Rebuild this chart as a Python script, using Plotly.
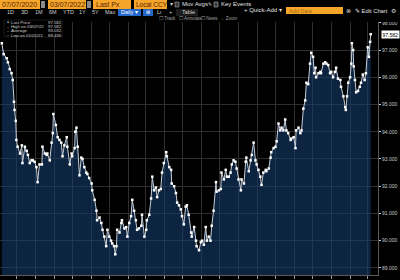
import datetime as dt
import plotly.graph_objects as go

# ---------------- data ----------------
start_date = "2020-07-07"
days_since_start = [
    0, 3, 8, 10, 13, 16, 18, 20, 21, 23, 24, 26, 30, 33, 34, 38, 41, 43, 46, 49,
    51, 54, 57, 59, 62, 66, 67, 71, 74, 75, 79, 82, 84, 85, 89, 92, 95, 98, 100, 103,
    107, 108, 112, 115, 116, 120, 121, 123, 125, 128, 131, 133, 136, 139, 141, 144, 148, 149, 153, 156,
    157, 161, 164, 166, 169, 172, 174, 177, 180, 182, 185, 187, 189, 190, 194, 197, 198, 202, 205, 207,
    210, 213, 215, 218, 221, 223, 226, 230, 231, 235, 238, 239, 243, 246, 248, 251, 254, 256, 259, 262,
    264, 267, 271, 272, 276, 279, 280, 284, 287, 289, 292, 295, 297, 300, 303, 305, 308, 312, 313, 317,
    320, 321, 325, 328, 330, 333, 336, 338, 341, 344, 346, 349, 353, 354, 358, 361, 362, 366, 369, 371,
    374, 377, 379, 382, 385, 387, 390, 394, 395, 399, 402, 403, 407, 410, 412, 415, 418, 420, 423, 426,
    428, 431, 435, 436, 440, 443, 444, 448, 451, 453, 456, 459, 461, 464, 467, 469, 472, 476, 477, 481,
    484, 485, 489, 492, 494, 497, 500, 502, 505, 508, 510, 513, 515, 517, 518, 522, 525, 526, 530, 533,
    535, 538, 541, 543, 546, 549, 551, 554, 558, 559, 563, 566, 567, 569, 571, 574, 576, 577, 579, 580,
    582, 584, 587, 590, 592, 595, 598, 600, 603, 605, 607, 608,
]
last_px = [
    97.25, 96.85, 96.70, 96.55, 96.30, 96.15, 95.90, 95.10, 94.80, 94.40, 93.70, 93.45, 93.20, 93.50, 92.85, 93.45, 93.30, 93.15, 92.85, 92.95,
    92.95, 92.90, 92.70, 92.15, 92.80, 92.80, 93.45, 93.20, 93.15, 93.20, 92.95, 93.60, 93.95, 94.65, 94.25, 93.80, 93.70, 93.60, 93.10, 93.50,
    93.80, 93.45, 92.80, 93.20, 93.10, 93.40, 94.00, 94.15, 93.45, 92.40, 93.05, 93.00, 92.70, 92.50, 92.45, 92.30, 92.10, 91.85, 91.50, 91.10,
    90.75, 90.85, 90.65, 90.40, 90.15, 89.80, 90.40, 90.15, 90.00, 89.90, 89.80, 89.50, 89.80, 90.40, 90.30, 90.65, 90.75, 90.45, 90.50, 90.15,
    90.65, 90.90, 91.50, 91.10, 90.75, 90.40, 90.45, 90.55, 90.95, 90.15, 90.40, 90.75, 90.95, 91.55, 92.35, 91.85, 91.95, 91.60, 91.85, 91.90,
    92.50, 92.85, 93.25, 93.10, 92.70, 92.60, 92.10, 92.00, 91.75, 91.40, 91.30, 91.15, 90.90, 90.60, 91.25, 91.30, 90.95, 90.30, 90.15, 90.50,
    90.00, 89.80, 89.65, 89.95, 90.00, 89.85, 90.50, 90.00, 90.15, 90.00, 90.55, 91.10, 92.15, 91.80, 91.85, 91.90, 92.50, 92.25, 92.60, 92.35,
    92.35, 92.50, 92.80, 92.95, 92.90, 92.65, 92.25, 91.85, 92.25, 92.10, 92.90, 93.05, 92.55, 92.95, 93.15, 93.60, 92.95, 92.80, 92.60, 92.35,
    92.05, 92.50, 92.60, 92.55, 92.65, 93.05, 93.25, 93.40, 93.45, 93.65, 94.30, 94.05, 94.15, 94.05, 94.45, 94.05, 93.95, 93.70, 93.75, 93.80,
    93.40, 94.05, 94.15, 93.95, 94.05, 94.85, 95.15, 95.80, 95.75, 96.50, 96.90, 96.75, 96.15, 96.35, 96.00, 96.15, 96.20, 96.15, 96.50, 96.55,
    96.50, 96.45, 96.15, 96.20, 96.00, 96.20, 96.35, 95.95, 95.90, 95.65, 95.30, 94.90, 94.80, 95.30, 95.80, 96.00, 96.50, 97.25, 97.00, 96.40,
    95.90, 95.45, 95.50, 95.65, 95.80, 96.10, 95.90, 96.15, 97.10, 96.75, 97.30, 97.582,
]
y_ticks = [89, 90, 91, 92, 93, 94, 95, 96, 97, 98]
legend_labels = ["Last Price", "High on 03/07/22", "Average", "Low on 01/05/21"]
legend_values = ["97.582", "97.582", "93.032", "89.436"]
period_buttons = ["1D", "3D", "1M", "6M", "YTD", "1Y", "5Y", "Max"]

t0 = dt.date.fromisoformat(start_date)
dates = [t0 + dt.timedelta(days=d) for d in days_since_start]

# ---------------- figure ----------------
W, H = 400, 280
ML, MR, MT, MB = 0, 22, 22, 5
PW, PH = W - ML - MR, H - MT - MB


def px(x):
    return (x - ML) / PW


def py(y):
    return 1 - (y - MT) / PH


fig = go.Figure()
fig.add_trace(go.Scatter(
    x=dates, y=last_px, mode="lines+markers",
    line=dict(color="#c4ced9", width=1),
    marker=dict(symbol="square", size=2.5, color="#ffffff"),
    fill="tozeroy", fillcolor="rgba(22,62,112,0.58)",
    hoverinfo="skip", showlegend=False,
))

shapes = []
ann = []

ORANGE = "#f4a52a"
ORTXT = "#5a2200"


def box(x0, x1, y0, y1, color, line=None):
    shapes.append(dict(type="rect", xref="paper", yref="paper",
                       x0=px(x0), x1=px(x1), y0=py(y1), y1=py(y0),
                       fillcolor=color, line=dict(width=0 if line is None else 0.6,
                                                  color=line or color), layer="above"))


def text(x, y, s, size=6, color="#d8d8d8", anchor="left", bg=None):
    a = dict(xref="paper", yref="paper", x=px(x), y=py(y), text=s, showarrow=False,
             xanchor=anchor, yanchor="middle",
             font=dict(size=size, color=color, family="Liberation Sans, Arial"),
             borderpad=0)
    if bg:
        a["bgcolor"] = bg
    ann.append(a)


# black background for the toolbar area (over paper)
box(0, 400, 0, 22, "#000000")

# row 1 – orange inputs
box(0, 40, 0, 9, ORANGE)
text(1, 4.5, "07/07/2020", 7, ORTXT)
box(41, 45, 1, 8, "#8a8a8a")
box(48, 86, 0, 9, ORANGE)
text(49, 4.5, "03/07/2022", 7, ORTXT)
box(87, 91, 1, 8, "#8a8a8a")
box(93, 131, 0, 9, ORANGE)
text(95, 4.5, "Last Px", 7, ORTXT)
box(134, 167, 0, 9, ORANGE)
text(135, 4.5, "Local CCY", 6.5, ORTXT)
text(169, 4.5, "▾", 6, "#cfcfcf")
box(175, 179, 2, 7, "#3a3a3a", "#aaaaaa")
text(181, 4.5, "Mov Avgs", 6, "#e0e0e0")
text(207, 4.5, "✎", 5, "#cfcfcf")
box(214, 218, 2, 7, "#3a3a3a", "#aaaaaa")
text(220, 4.5, "Key Events", 6, "#e0e0e0")

# row 2 – period buttons etc.
bx = [6, 20, 34, 48, 62, 78, 91, 104]
for x, s in zip(bx, period_buttons):
    text(x, 12.5, s, 5.5, "#cfcfcf")
box(118, 141, 9, 16, "#2467c8")
text(120, 12.5, "Daily ▾", 5.5, "#ffffff")
box(143, 153, 9, 16, "#2467c8")
text(145, 12.5, "⊞", 5, "#ffffff")
text(156, 12.5, "Lı", 5.5, "#cfcfcf")
text(168, 12.5, "+", 5.5, "#cfcfcf")
box(176, 198, 9, 16, "#1c1c1c")
text(181, 12.5, "Table", 5.5, "#d0d0d0")
text(243, 10, "+ Quick-Add ▾", 6, "#e0e0e0")
box(286, 343, 7, 14, ORANGE)
text(288, 10.5, "Add Data", 5.5, "#a86a10")
text(345, 10.5, "⊗", 6, "#cfcfcf")
text(354, 10.5, "✎ Edit Chart", 5.8, "#e0e0e0")
text(390, 10.5, "⚙", 6, "#cfcfcf")

# row 3
text(158, 18.5, "☐ Track", 4.5, "#a0a0a0")
text(178, 18.5, "☐ Annotate", 4.5, "#a0a0a0")
text(200, 18.5, "☐ News", 4.5, "#a0a0a0")
text(219, 18.5, "↔ Zoom", 4.5, "#a0a0a0")

# legend box
box(4, 62, 20, 37, "rgba(0,0,0,0.85)", "#2a2a2a")
for i, (lab, val) in enumerate(zip(legend_labels, legend_values)):
    yy = 22.5 + i * 4.2
    mark = "●" if i == 0 else "–"
    text(6, yy, mark, 3.5, "#d0d0d0")
    text(10, yy, lab, 4.3, "#d0d0d0")
    text(47, yy, val, 4.3, "#d0d0d0")

# last price tag
ann.append(dict(xref="paper", yref="y", x=px(381), y=last_px[-1], text="97.582",
                showarrow=False, xanchor="left", yanchor="middle",
                font=dict(size=5, color="#000000", family="Liberation Sans, Arial"),
                bgcolor="#ffffff", borderpad=0.5))

fig.update_layout(
    width=W, height=H,
    margin=dict(l=ML, r=MR, t=MT, b=MB, pad=0),
    paper_bgcolor="#000000", plot_bgcolor="#000000",
    shapes=shapes, annotations=ann,
    xaxis=dict(
        type="date",
        range=[t0 - dt.timedelta(days=3), t0 + dt.timedelta(days=620)],
        dtick="M1", tick0="2020-08-01",
        showgrid=True, gridcolor="#2e2e2e", gridwidth=1,
        ticks="outside", ticklen=3, tickcolor="#9a9a9a",
        showticklabels=False, zeroline=False,
        showline=True, linecolor="#5a5a5a", linewidth=1,
    ),
    yaxis=dict(
        side="right", range=[88.74, 98.03],
        tickvals=y_ticks, tickformat=".3f",
        tickfont=dict(size=5, color="#c8c8c8", family="Liberation Sans, Arial"),
        ticks="outside", ticklen=2, tickcolor="#c8c8c8",
        showgrid=True, gridcolor="#2e2e2e", gridwidth=1,
        zeroline=False, showline=True, linecolor="#5a5a5a", linewidth=1,
        automargin=False,
    ),
)

fig.write_html("out.html")
